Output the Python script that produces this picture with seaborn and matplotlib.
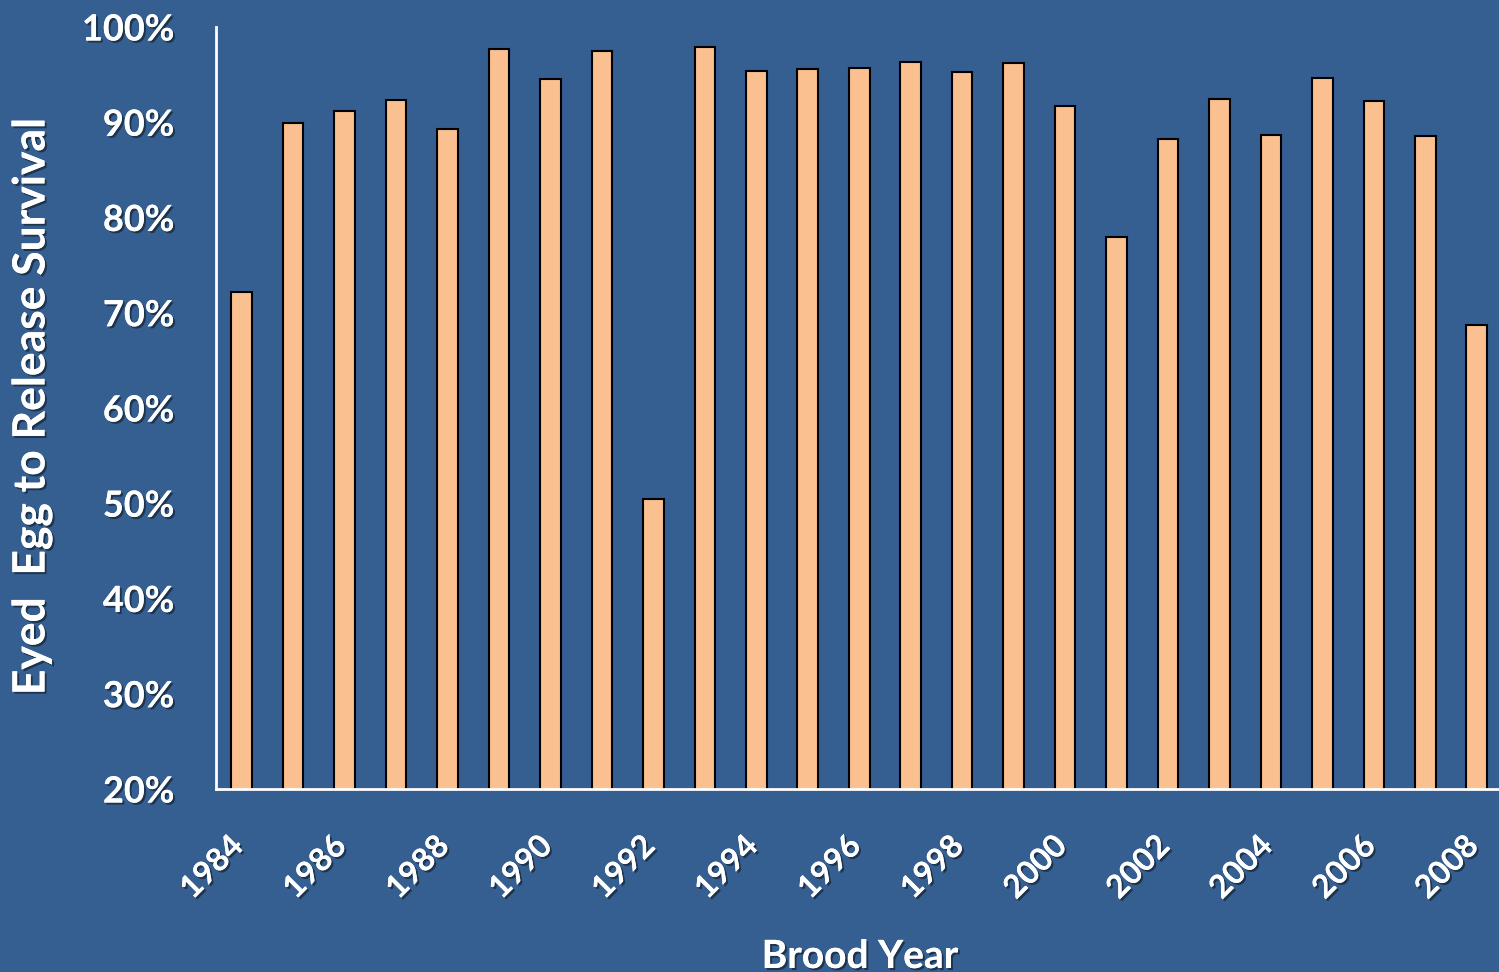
import matplotlib
matplotlib.use("Agg")
import matplotlib.pyplot as plt
import matplotlib.patheffects as pe
import matplotlib.transforms as mtransforms
import seaborn as sns
import pandas as pd

years = list(range(1984, 2009))
survival = [72.2, 89.9, 91.2, 92.3, 89.3, 97.7, 94.5, 97.5, 50.4, 97.9,
            95.4, 95.6, 95.7, 96.3, 95.3, 96.2, 91.7, 78.0, 88.2, 92.4,
            88.7, 94.6, 92.2, 88.6, 68.7]
y_ticks = [20, 30, 40, 50, 60, 70, 80, 90, 100]
y_tick_labels = [f"{t}%" for t in y_ticks]
x_label = "Brood Year"
y_label = "Eyed  Egg to Release Survival"

BG = "#365F91"
BAR = "#FAC090"

sns.set_theme(style="white")
plt.rcParams["font.family"] = ["Lato", "DejaVu Sans"]
plt.rcParams["font.weight"] = "bold"

df = pd.DataFrame({"year": [str(y) for y in years], "survival": survival})

fig = plt.figure(figsize=(14.99, 9.72), dpi=100)
fig.patch.set_facecolor(BG)
ax = fig.add_axes([216 / 1499, 1 - 789 / 972, 1286.5 / 1499, (789 - 27) / 972])
ax.set_facecolor(BG)

sns.barplot(data=df, x="year", y="survival", color=BAR, saturation=1,
            width=0.40, edgecolor="black", linewidth=1.5, ax=ax)

ax.set_ylim(20, 100)
ax.set_xlim(-0.5, len(years) - 0.5)
ax.set_yticks(y_ticks)
shadow = [pe.withSimplePatchShadow(offset=(1.5, -1.5), shadow_rgbFace="black", alpha=0.45), pe.Normal()]
ax.set_yticklabels(y_tick_labels, fontsize=26, fontweight="bold", color="white")
xt = list(range(0, len(years), 2))
ax.set_xticks(xt)
ax.set_xticklabels([str(years[i]) for i in xt], rotation=45, ha="right",
                   fontsize=23, fontweight="bold", color="white")
ax.tick_params(axis="both", length=0)
ax.tick_params(axis="y", pad=30)
ax.tick_params(axis="x", pad=30)
offset = mtransforms.ScaledTranslation(7 / 100, 0, fig.dpi_scale_trans)
for lab in ax.get_xticklabels():
    lab.set_transform(lab.get_transform() + offset)
    lab.set_path_effects(shadow)
for lab in ax.get_yticklabels():
    lab.set_path_effects(shadow)

ax.set_xlabel(x_label, fontsize=28, fontweight="bold", color="white",
              path_effects=shadow)
ax.set_ylabel(y_label, fontsize=32, fontweight="bold", color="white",
              path_effects=shadow)
ax.xaxis.set_label_coords((860 - 216) / 1286.5, -(939 - 789) / 762)
ax.yaxis.set_label_coords(-(216 - 52) / 1286.5, (789 - 406) / 762)

for s in ["top", "right"]:
    ax.spines[s].set_visible(False)
for s in ["left", "bottom"]:
    ax.spines[s].set_color("white")
    ax.spines[s].set_linewidth(2)

fig.savefig("out.png", dpi=100, facecolor=BG)
